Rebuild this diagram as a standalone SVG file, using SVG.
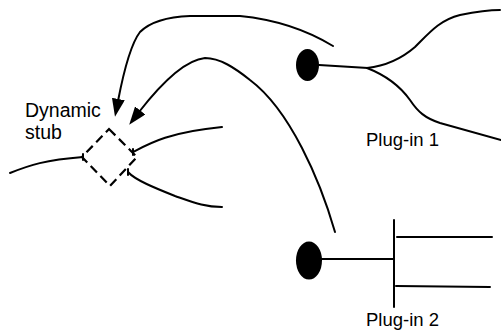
<svg xmlns="http://www.w3.org/2000/svg" width="501" height="332" viewBox="0 0 501 332">
  <style>
    .ln { fill: none; stroke: #000; stroke-width: 2; stroke-linecap: round; stroke-linejoin: round; }
    .dash { fill: none; stroke: #000; stroke-width: 2.2; stroke-dasharray: 9 5; }
    .lbl { font-family: "Liberation Sans", Arial, sans-serif; fill: #000; }
    .dot { fill: #000; }
  </style>
  <defs>
    <marker id="ah" viewBox="0 0 18 13" refX="2" refY="6.5" markerWidth="18" markerHeight="13" markerUnits="userSpaceOnUse" orient="auto">
      <path d="M0,0 L18,6.5 L0,13 z" fill="#000"/>
    </marker>
  </defs>
  <rect width="501" height="332" fill="#fff"/>

  <g id="stub">
    <path class="ln" d="M10,173 C30,165 45,160 83,157"/>
    <path class="ln" d="M133,152 C150,143 170,132 222,127"/>
    <path class="ln" d="M128,172 C135,180 155,188 175,196 C195,203 205,207 222,207"/>
    <path class="ln" d="M83,154 L83,160 M133,149 L133,155 M128,169 L128,175"/>
    <polygon class="dash" points="109,129 137,157 110,186 82,157"/>
    <text class="lbl" x="25" y="117" font-size="19.5">Dynamic</text>
    <text class="lbl" x="25" y="139" font-size="19.5">stub</text>
  </g>

  <g id="plugin1">
    <ellipse class="dot" cx="307.5" cy="65" rx="11.5" ry="16"/>
    <path class="ln" d="M319,65 L368,68"/>
    <path class="ln" d="M367,68 C385,66 400,60 415,47 C430,32 440,20 460,15 C475,12 490,10 500,10"/>
    <path class="ln" d="M367,68 C385,75 400,86 410,100 C418,112 425,118 440,123 L501,140"/>
    <text class="lbl" x="366" y="146" font-size="18.5">Plug-in 1</text>
  </g>

  <g id="plugin2">
    <ellipse class="dot" cx="309" cy="260.5" rx="13" ry="19"/>
    <path class="ln" d="M321,259 L394,259"/>
    <path class="ln" d="M394,220 L394,307"/>
    <path class="ln" d="M397,237 L492,237"/>
    <path class="ln" d="M396,286 L490,287"/>
    <text class="lbl" x="366" y="326" font-size="18.5">Plug-in 2</text>
  </g>

  <g id="connectors">
    <path class="ln" marker-end="url(#ah)" d="M333,46 C310,32 280,20 240,16 L190,16 C165,17 150,22 140,32 C130,45 123,75 118,101"/>
    <path class="ln" marker-end="url(#ah)" d="M335,232 C320,180 290,110 250,80 C235,68 220,58 205,58 C185,60 160,85 139,112"/>
  </g>
</svg>
